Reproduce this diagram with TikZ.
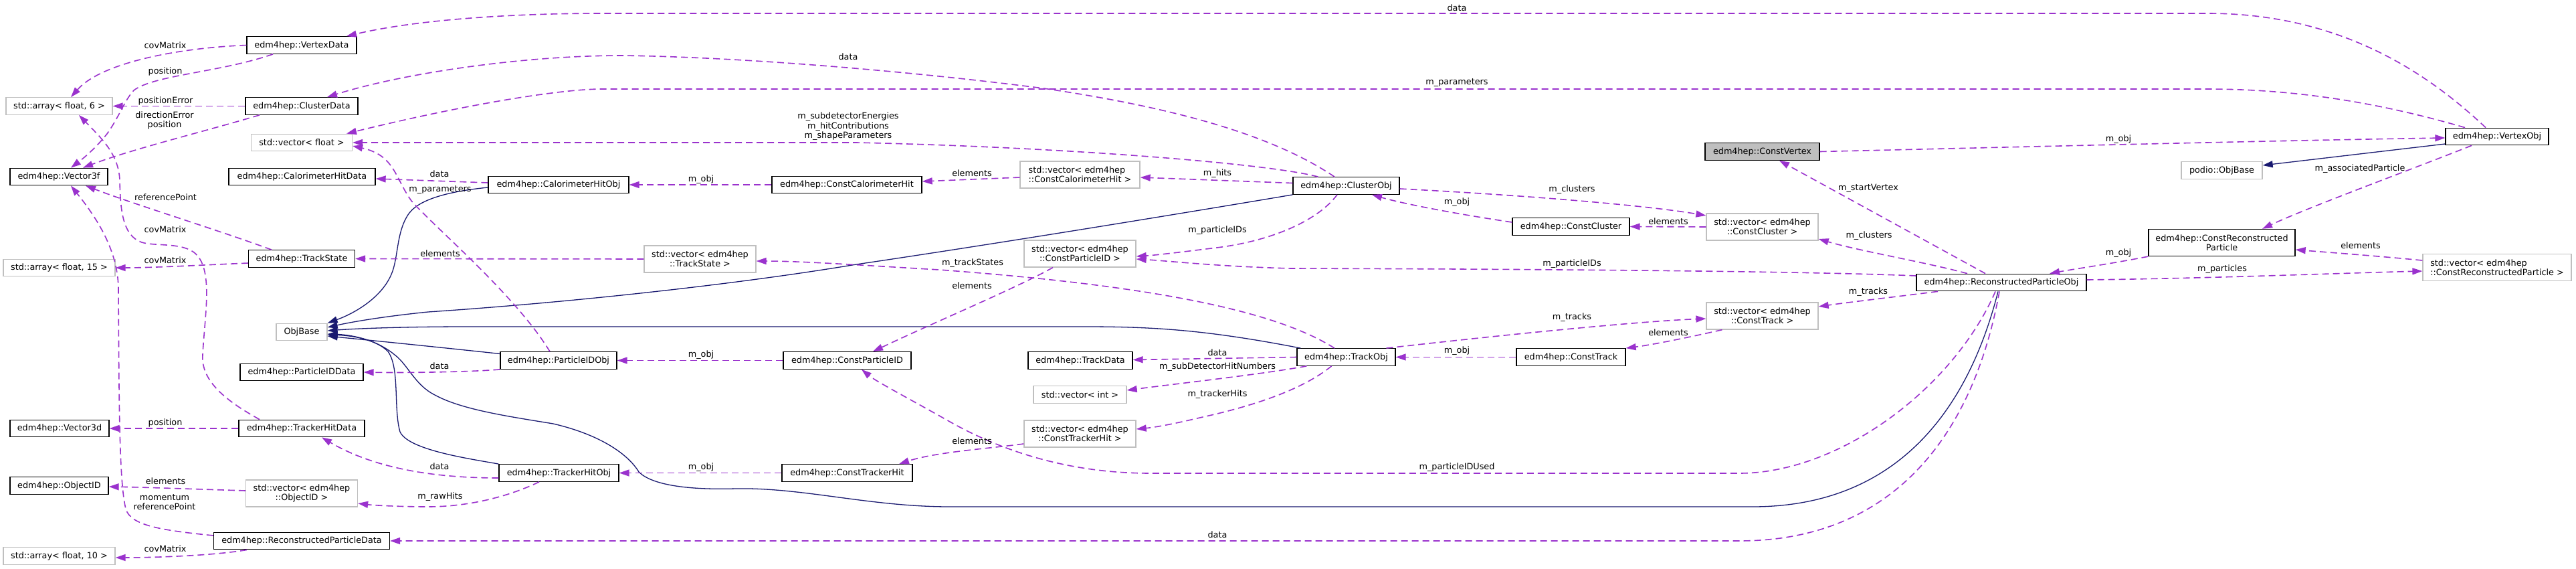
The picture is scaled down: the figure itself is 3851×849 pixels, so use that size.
\documentclass[tikz,border=0pt]{standalone}
\usepackage{fontspec}
\setmainfont{DejaVu Sans}
\usetikzlibrary{arrows.meta}
\definecolor{usecol}{HTML}{9A32CD}
\definecolor{inhcol}{HTML}{191970}
\definecolor{graybd}{HTML}{BFBFBF}
\tikzset{
 boxbase/.style={rectangle, inner xsep=0pt, inner ysep=0pt, minimum height=25.5pt, font=\fontsize{12.8}{14}\selectfont, text=black},
 doc/.style={boxbase, draw=black, line width=1.3pt, fill=white},
 und/.style={boxbase, draw=graybd, line width=1.3pt, fill=white},
 two/.style={minimum height=40pt, align=center},
 twol/.style={minimum height=40pt, align=left},
 cur/.style={doc, fill=graybd},
 use/.style={draw=usecol, line width=1.6pt, dash pattern=on 10pt off 6pt, -{Triangle[length=15pt,width=10pt,fill=usecol]}},
 inh/.style={draw=inhcol, line width=1.3pt, -{Triangle[length=15pt,width=10pt,fill=inhcol]}},
 lbl/.style={font=\fontsize{12.8}{14.5}\selectfont, inner sep=0pt, align=center, text=black},
}
\begin{document}
\begin{tikzpicture}[x=1pt,y=-1pt]
\fill[white] (0,0) rectangle (3851,849);
\useasboundingbox (0,0) rectangle (3851,849);

% documented nodes
\node[doc, minimum width=164pt] (vdata) at (451,67.5) {edm4hep::VertexData};
\node[doc, minimum width=168pt] (cdata) at (451,158.5) {edm4hep::ClusterData};
\node[doc, minimum width=146pt] (v3f) at (88,264) {edm4hep::Vector3f};
\node[doc, minimum width=219pt] (chdata) at (451.5,264) {edm4hep::CalorimeterHitData};
\node[doc, minimum width=159pt] (tstate) at (451,386.5) {edm4hep::TrackState};
\node[doc, minimum width=184pt] (piddata) at (451,556) {edm4hep::ParticleIDData};
\node[doc, minimum width=148pt] (v3d) at (89,640) {edm4hep::Vector3d};
\node[doc, minimum width=188pt] (thdata) at (451,640) {edm4hep::TrackerHitData};
\node[doc, minimum width=147pt] (oid) at (88.5,725.5) {edm4hep::ObjectID};
\node[doc, minimum width=263pt] (rpdata) at (451,808) {edm4hep::ReconstructedParticleData};
\node[doc, minimum width=210pt] (chobj) at (835,276) {edm4hep::CalorimeterHitObj};
\node[doc, minimum width=224pt] (cch) at (1266,276) {edm4hep::ConstCalorimeterHit};
\node[doc, minimum width=174pt] (pidobj) at (835,538.5) {edm4hep::ParticleIDObj};
\node[doc, minimum width=191pt] (cpid) at (1266.5,538.5) {edm4hep::ConstParticleID};
\node[doc, minimum width=179pt] (thobj) at (835.5,706.5) {edm4hep::TrackerHitObj};
\node[doc, minimum width=195pt] (cth) at (1266.5,706.5) {edm4hep::ConstTrackerHit};
\node[doc, minimum width=156pt] (tdata) at (1615,538.5) {edm4hep::TrackData};
\node[doc, minimum width=159pt] (clobj) at (2012.5,277.5) {edm4hep::ClusterObj};
\node[doc, minimum width=175pt] (ccl) at (2348.5,338.5) {edm4hep::ConstCluster};
\node[doc, minimum width=147pt] (trobj) at (2012.5,533.5) {edm4hep::TrackObj};
\node[doc, minimum width=163pt] (ctr) at (2348.5,533.5) {edm4hep::ConstTrack};
\node[cur, minimum width=171pt] (cvtx) at (2634.5,226.5) {edm4hep::ConstVertex};
\node[doc, minimum width=254pt] (rpobj) at (2992,422) {edm4hep::ReconstructedParticleObj};
\node[doc, minimum width=154pt] (vobj) at (3733,204) {edm4hep::VertexObj};
\node[doc, two, minimum width=219pt] (crp) at (3321.5,362.5) {edm4hep::ConstReconstructed\\Particle};

% undocumented nodes
\node[und, minimum width=159pt] (arr6) at (88.5,158.5) {std::array< float, 6 >};
\node[und, minimum width=151pt] (vfloat) at (451,213) {std::vector< float >};
\node[und, minimum width=167pt] (arr15) at (88.5,400) {std::array< float, 15 >};
\node[und, minimum width=76pt] (objbase) at (451,496) {ObjBase};
\node[und, two, minimum width=167pt] (voie) at (451,737) {std::vector< edm4hep\\::ObjectID >};
\node[und, minimum width=167pt] (arr10) at (88.5,830.5) {std::array< float, 10 >};
\node[und, two, minimum width=167pt] (vts) at (1046.5,387) {std::vector< edm4hep\\::TrackState >};
\node[und, twol, minimum width=179pt] (vcch) at (1614.5,261) {std::vector< edm4hep\\::ConstCalorimeterHit >};
\node[und, two, minimum width=167pt] (vcpid) at (1614.5,379) {std::vector< edm4hep\\::ConstParticleID >};
\node[und, minimum width=139pt] (vint) at (1614.5,589.5) {std::vector< int >};
\node[und, two, minimum width=167pt] (vcth) at (1614.5,648) {std::vector< edm4hep\\::ConstTrackerHit >};
\node[und, two, minimum width=167pt] (vccl) at (2634.5,339) {std::vector< edm4hep\\::ConstCluster >};
\node[und, two, minimum width=167pt] (vctr) at (2634.5,472) {std::vector< edm4hep\\::ConstTrack >};
\node[und, minimum width=121pt] (podio) at (3321.5,254.5) {podio::ObjBase};
\node[und, twol, minimum width=222pt] (vcrp) at (3733,399.5) {std::vector< edm4hep\\::ConstReconstructedParticle >};

% inheritance edges
\draw[inh] ([yshift=-4pt]chobj.west) .. controls (680,285) and (630,295) .. (612,318) .. controls (592,345) and (596,385) .. (585,410) .. controls (570,445) and (530,468) .. (objbase.north east);
\draw[inh] (clobj.south west) .. controls (1700,330) and (1450,370) .. (1280,395) .. controls (1100,425) and (850,452) .. (640,466) .. controls (580,472) and (530,480) .. ([yshift=7pt]objbase.east);
\draw[inh] ([xshift=6pt]trobj.north west) .. controls (1800,492) and (1720,488) .. (1620,488) -- (700,488) .. controls (600,488) and (530,491) .. ([yshift=2pt]objbase.east);
\draw[inh] ([yshift=10pt]pidobj.west) .. controls (650,518) and (550,508) .. ([yshift=-6pt]objbase.east);
\draw[inh] (thobj.north west) .. controls (700,685) and (610,672) .. (598,645) .. controls (588,610) and (598,550) .. (580,525) .. controls (560,505) and (520,501) .. ([yshift=-4pt]objbase.east);
\draw[inh] ([xshift=-5pt]rpobj.south) .. controls (2940,620) and (2830,757) .. (2620,757) -- (1420,757) .. controls (1300,757) and (1200,728) .. (1100,730) .. controls (1030,732) and (975,725) .. (955,705) .. controls (940,680) and (900,650) .. (827,633) .. controls (760,622) and (690,612) .. (650,590) .. controls (620,575) and (610,545) .. (590,530) .. controls (560,505) and (520,500) .. ([yshift=-3pt]objbase.east);
\draw[inh] ([yshift=-11pt]vobj.west) -- ([yshift=7.5pt]podio.east);

% usage edges
\draw[use] ([xshift=-17pt]vobj.north) .. controls (3630,110) and (3500,20) .. (3300,20) -- (900,20) .. controls (760,20) and (620,30) .. ([xshift=67pt]vdata.north);
\node[lbl] (l1) at (2178,12) {data};
\draw[use] (vdata.west) .. controls (260,72) and (150,95) .. ([xshift=17.5pt]arr6.north);
\node[lbl] (l2) at (247,68) {covMatrix};
\draw[use] ([xshift=-43pt]vdata.south) .. controls (330,108) and (230,112) .. (200,135) .. controls (186,150) and (178,175) .. (160,200) .. controls (140,225) and (120,240) .. ([xshift=18pt]v3f.north);
\node[lbl] (l3) at (247,107) {position};
\draw[use] (cdata.west) -- (arr6.east);
\node[lbl] (l4) at (247.5,151) {positionError};
\draw[use] ([xshift=-63pt]cdata.south) .. controls (300,198) and (200,222) .. ([xshift=36pt]v3f.north);
\node[lbl] (l5) at (246,180) {directionError\\position};
\draw[use] ([xshift=-17.5pt]clobj.north) .. controls (1900,200) and (1750,160) .. (1560,132) .. controls (1350,105) and (1100,85) .. (930,83) .. controls (780,83) and (600,110) .. ([xshift=38pt]cdata.north);
\node[lbl] (l6) at (1268,85) {data};
\draw[use] ([xshift=-48pt]vobj.north) .. controls (3580,160) and (3450,133) .. (3300,133) -- (900,133) .. controls (840,133) and (700,155) .. ([xshift=67pt]vfloat.north);
\node[lbl] (l7) at (2178,124) {m\_parameters};
\draw[use] ([xshift=-42pt]clobj.north) .. controls (1900,245) and (1600,220) .. (1280,213) -- (vfloat.east);
\node[lbl] (l8) at (1268,189) {m\_subdetectorEnergies\\m\_hitContributions\\m\_shapeParameters};
\draw[use] ([xshift=-13pt]pidobj.north) .. controls (770,440) and (650,340) .. (615,300) .. controls (590,265) and (590,232) .. ([yshift=-5pt]vfloat.east);
\node[lbl] (l9) at (658,284) {m\_parameters};
\draw[use] ([yshift=3pt]chobj.west) -- ([yshift=-3pt]chdata.east);
\node[lbl] (l10) at (657,260) {data};
\draw[use] (cch.west) -- (chobj.east);
\node[lbl] (l11) at (1048,268) {m\_obj};
\draw[use] ([yshift=-4pt]vcch.west) -- ([yshift=5pt]cch.east);
\node[lbl] (l12) at (1453,259) {elements};
\draw[use] ([yshift=4pt]clobj.west) -- ([yshift=-4pt]vcch.east);
\node[lbl] (l13) at (1820,259) {m\_hits};
\draw[use] (vts.west) -- (tstate.east);
\node[lbl] (l14) at (658,379) {elements};
\draw[use] ([xshift=-17.5pt]trobj.north) .. controls (1900,460) and (1700,425) .. (1404,403) .. controls (1300,397) and (1200,390) .. ([yshift=-3pt]vts.east);
\node[lbl] (l15) at (1454,393) {m\_trackStates};
\draw[use] ([yshift=-6.5pt]tstate.west) .. controls (300,396) and (230,400) .. (arr15.east);
\node[lbl] (l16) at (247,389) {covMatrix};
\draw[use] ([xshift=-45pt]tstate.north) .. controls (330,345) and (200,305) .. ([xshift=40pt]v3f.south);
\node[lbl] (l17) at (247.5,295) {referencePoint};
\draw[use] ([xshift=-63pt]thdata.north) .. controls (340,600) and (300,570) .. (303,530) .. controls (306,470) and (320,400) .. (290,377) .. controls (270,362) and (230,368) .. (212,362) .. controls (182,352) and (180,310) .. (179,270) .. controls (178,230) and (150,205) .. ([xshift=29.5pt]arr6.south);
\node[lbl] (l18) at (247,343) {covMatrix};
\draw[use] ([yshift=8pt]rpdata.west) .. controls (240,792) and (195,785) .. (188,760) .. controls (178,720) and (178,600) .. (177,430) .. controls (176,370) and (140,320) .. ([xshift=18pt]v3f.south);
\node[lbl] (l19) at (246,750) {momentum\\referencePoint};
\draw[use] (pidobj.south west) .. controls (700,556) and (600,557) .. (piddata.east);
\node[lbl] (l20) at (657,547) {data};
\draw[use] ([yshift=-7.5pt]thobj.west) .. controls (650,714) and (560,700) .. ([xshift=30pt]thdata.south);
\node[lbl] (l21) at (657,697) {data};
\draw[use] ([xshift=-29.5pt]thobj.south) .. controls (760,742) and (700,757) .. (640,757) .. controls (600,757) and (560,755) .. ([yshift=-15pt]voie.east);
\node[lbl] (l22) at (658,742) {m\_rawHits};
\draw[use] ([yshift=4pt]voie.west) .. controls (300,731) and (220,728) .. ([yshift=-1.5pt]oid.east);
\node[lbl] (l23) at (247.5,719) {elements};
\draw[use] (thdata.west) -- (v3d.east);
\node[lbl] (l24) at (247,632) {position};
\draw[use] ([xshift=-82pt]rpdata.south) .. controls (320,830) and (230,833) .. ([yshift=-2.5pt]arr10.east);
\node[lbl] (l25) at (247,820) {covMatrix};
\draw[use] ([xshift=-3pt]rpobj.south) .. controls (2950,650) and (2830,808) .. (2600,808) -- (rpdata.east);
\node[lbl] (l26) at (1820,799) {data};
\draw[use] ([xshift=-9pt]rpobj.south) .. controls (2920,580) and (2750,707) .. (2600,707) -- (1720,707) .. controls (1600,707) and (1500,675) .. (1420,630) .. controls (1360,596) and (1310,570) .. ([xshift=21.5pt]cpid.south);
\node[lbl] (l27) at (2178,698) {m\_particleIDUsed};
\draw[use] ([xshift=-38pt]vobj.south) .. controls (3600,255) and (3450,310) .. ([xshift=60.5pt]crp.north);
\node[lbl] (l35) at (3528,252) {m\_associatedParticle};
\draw[use] (cvtx.east) .. controls (3000,220) and (3400,210) .. ([yshift=-2pt]vobj.west);
\node[lbl] (l36) at (3167,208) {m\_obj};
\draw[use] ([xshift=-24pt]rpobj.north) -- ([xshift=25.5pt]cvtx.south);
\node[lbl] (l37) at (2793,281) {m\_startVertex};
\draw[use] ([xshift=-51pt]rpobj.north) .. controls (2880,392) and (2780,375) .. ([yshift=-18pt]vccl.east);
\node[lbl] (l38) at (2794,352) {m\_clusters};
\draw[use] ([yshift=-4.5pt]clobj.east) .. controls (2250,290) and (2450,305) .. ([yshift=17pt]vccl.west);
\node[lbl] (l39) at (2350,283) {m\_clusters};
\draw[use] ([yshift=6.5pt]ccl.west) .. controls (2180,320) and (2100,305) .. ([xshift=38.5pt]clobj.south);
\node[lbl] (l40) at (2178,302) {m\_obj};
\draw[use] (vccl.west) -- (ccl.east);
\node[lbl] (l41) at (2494,331) {elements};
\draw[use] ([xshift=-95pt]rpobj.south) .. controls (2820,445) and (2760,452) .. ([yshift=14pt]vctr.east);
\node[lbl] (l42) at (2793,436) {m\_tracks};
\draw[use] ([xshift=60pt]trobj.north) .. controls (2250,500) and (2450,480) .. ([yshift=-4pt]vctr.west);
\node[lbl] (l43) at (2350,474) {m\_tracks};
\draw[use] (ctr.west) -- (trobj.east);
\node[lbl] (l44) at (2178,524) {m\_obj};
\draw[use] ([xshift=-60pt]vctr.south) .. controls (2520,505) and (2470,515) .. (ctr.north east);
\node[lbl] (l45) at (2494,497) {elements};
\draw[use] ([xshift=-13.5pt]clobj.south) .. controls (1970,330) and (1900,360) .. (1819,370) .. controls (1770,376) and (1730,381) .. ([yshift=-4pt]vcpid.east);
\node[lbl] (l46) at (1820,344) {m\_particleIDs};
\draw[use] ([yshift=10pt]rpobj.west) .. controls (2700,405) and (2300,402) .. (1930,401) .. controls (1819,398) and (1750,390) .. ([yshift=-8pt]vcpid.east);
\node[lbl] (l47) at (2350,394) {m\_particleIDs};
\draw[use] ([xshift=-40.5pt]vcpid.south) .. controls (1520,430) and (1400,480) .. ([xshift=38.5pt]cpid.north);
\node[lbl] (l48) at (1453,427) {elements};
\draw[use] (cpid.west) -- (pidobj.east);
\node[lbl] (l49) at (1048,530) {m\_obj};
\draw[use] (trobj.west) -- ([yshift=1pt]tdata.east);
\node[lbl] (l50) at (1820,527) {data};
\draw[use] ([xshift=15pt]trobj.south west) .. controls (1880,560) and (1760,573) .. ([yshift=6.5pt]vint.east);
\node[lbl] (l51) at (1820,548) {m\_subDetectorHitNumbers};
\draw[use] ([xshift=-22pt]trobj.south) .. controls (1950,580) and (1880,605) .. (1798,623) .. controls (1760,632) and (1730,638) .. ([yshift=7pt]vcth.east);
\node[lbl] (l52) at (1820,589) {m\_trackerHits};
\draw[use] ([yshift=-15pt]vcth.west) .. controls (1480,670) and (1400,675) .. ([xshift=77.5pt]cth.north);
\node[lbl] (l53) at (1453,659) {elements};
\draw[use] (cth.west) -- (thobj.east);
\node[lbl] (l54) at (1048,698) {m\_obj};
\draw[use] (crp.south west) .. controls (3150,395) and (3100,402) .. ([xshift=72pt]rpobj.north);
\node[lbl] (l55) at (3167,378) {m\_obj};
\draw[use] ([yshift=4pt]rpobj.east) .. controls (3300,416) and (3500,408) .. ([yshift=-5.5pt]vcrp.west);
\node[lbl] (l56) at (3322,402) {m\_particles};
\draw[use] ([yshift=10.5pt]vcrp.west) .. controls (3550,382) and (3480,377) .. ([yshift=-10.5pt]crp.east);
\node[lbl] (l57) at (3529,367) {elements};
\end{tikzpicture}
\end{document}
